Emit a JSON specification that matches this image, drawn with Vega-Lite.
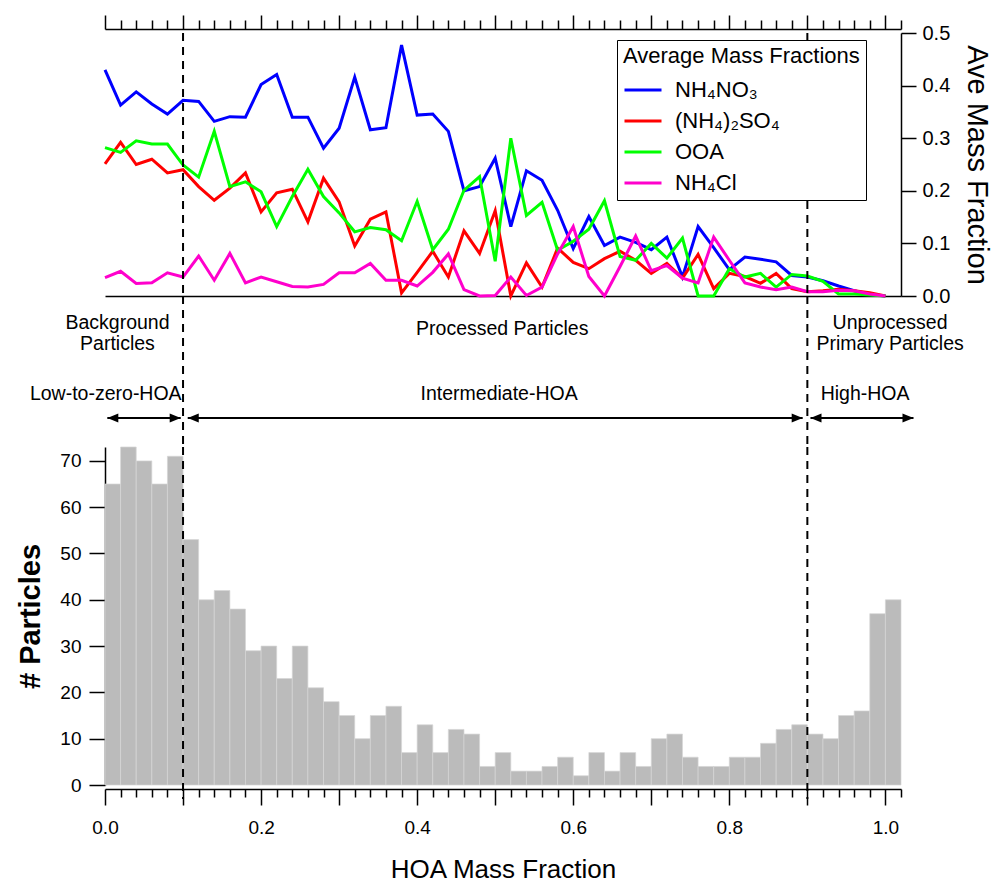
{
  "$schema": "https://vega.github.io/schema/vega-lite/v6.json",
  "background": "white",
  "padding": {"left": 16, "top": 14, "right": 2, "bottom": 2},
  "spacing": 0,
  "bounds": "flush",
  "config": {
    "font": "Liberation Sans",
    "view": {"stroke": null},
    "axis": {"domainColor": "black", "domainWidth": 1.5, "tickColor": "black", "tickWidth": 1.5, "labelColor": "black", "titleColor": "black", "labelFont": "Liberation Sans", "titleFont": "Liberation Sans", "grid": false, "titleFontWeight": "normal"},
    "text": {"font": "Liberation Sans"}
  },
  "datasets": {
    "counts": [
      {"lo":0.00,"hi":0.02,"n":65},{"lo":0.02,"hi":0.04,"n":73},{"lo":0.04,"hi":0.06,"n":70},{"lo":0.06,"hi":0.08,"n":65},{"lo":0.08,"hi":0.10,"n":71},
      {"lo":0.10,"hi":0.12,"n":53},{"lo":0.12,"hi":0.14,"n":40},{"lo":0.14,"hi":0.16,"n":42},{"lo":0.16,"hi":0.18,"n":38},{"lo":0.18,"hi":0.20,"n":29},
      {"lo":0.20,"hi":0.22,"n":30},{"lo":0.22,"hi":0.24,"n":23},{"lo":0.24,"hi":0.26,"n":30},{"lo":0.26,"hi":0.28,"n":21},{"lo":0.28,"hi":0.30,"n":18},
      {"lo":0.30,"hi":0.32,"n":15},{"lo":0.32,"hi":0.34,"n":10},{"lo":0.34,"hi":0.36,"n":15},{"lo":0.36,"hi":0.38,"n":17},{"lo":0.38,"hi":0.40,"n":7},
      {"lo":0.40,"hi":0.42,"n":13},{"lo":0.42,"hi":0.44,"n":7},{"lo":0.44,"hi":0.46,"n":12},{"lo":0.46,"hi":0.48,"n":11},{"lo":0.48,"hi":0.50,"n":4},
      {"lo":0.50,"hi":0.52,"n":7},{"lo":0.52,"hi":0.54,"n":3},{"lo":0.54,"hi":0.56,"n":3},{"lo":0.56,"hi":0.58,"n":4},{"lo":0.58,"hi":0.60,"n":6},
      {"lo":0.60,"hi":0.62,"n":2},{"lo":0.62,"hi":0.64,"n":7},{"lo":0.64,"hi":0.66,"n":3},{"lo":0.66,"hi":0.68,"n":7},{"lo":0.68,"hi":0.70,"n":4},
      {"lo":0.70,"hi":0.72,"n":10},{"lo":0.72,"hi":0.74,"n":11},{"lo":0.74,"hi":0.76,"n":6},{"lo":0.76,"hi":0.78,"n":4},{"lo":0.78,"hi":0.80,"n":4},
      {"lo":0.80,"hi":0.82,"n":6},{"lo":0.82,"hi":0.84,"n":6},{"lo":0.84,"hi":0.86,"n":9},{"lo":0.86,"hi":0.88,"n":12},{"lo":0.88,"hi":0.90,"n":13},
      {"lo":0.90,"hi":0.92,"n":11},{"lo":0.92,"hi":0.94,"n":10},{"lo":0.94,"hi":0.96,"n":15},{"lo":0.96,"hi":0.98,"n":16},{"lo":0.98,"hi":1.00,"n":37},
      {"lo":1.00,"hi":1.02,"n":40}
    ],
    "fractions": [
      {"hoa":0.00,"NH4NO3":0.430,"NH42SO4":0.251,"OOA":0.282,"NH4Cl":0.035},
      {"hoa":0.02,"NH4NO3":0.363,"NH42SO4":0.292,"OOA":0.273,"NH4Cl":0.047},
      {"hoa":0.04,"NH4NO3":0.388,"NH42SO4":0.250,"OOA":0.295,"NH4Cl":0.024},
      {"hoa":0.06,"NH4NO3":0.365,"NH42SO4":0.260,"OOA":0.289,"NH4Cl":0.025},
      {"hoa":0.08,"NH4NO3":0.346,"NH42SO4":0.234,"OOA":0.289,"NH4Cl":0.044},
      {"hoa":0.10,"NH4NO3":0.372,"NH42SO4":0.240,"OOA":0.249,"NH4Cl":0.036},
      {"hoa":0.12,"NH4NO3":0.370,"NH42SO4":0.208,"OOA":0.226,"NH4Cl":0.076},
      {"hoa":0.14,"NH4NO3":0.332,"NH42SO4":0.182,"OOA":0.313,"NH4Cl":0.030},
      {"hoa":0.16,"NH4NO3":0.341,"NH42SO4":0.205,"OOA":0.208,"NH4Cl":0.081},
      {"hoa":0.18,"NH4NO3":0.340,"NH42SO4":0.234,"OOA":0.217,"NH4Cl":0.025},
      {"hoa":0.20,"NH4NO3":0.402,"NH42SO4":0.160,"OOA":0.198,"NH4Cl":0.036},
      {"hoa":0.22,"NH4NO3":0.421,"NH42SO4":0.196,"OOA":0.132,"NH4Cl":0.027},
      {"hoa":0.24,"NH4NO3":0.340,"NH42SO4":0.203,"OOA":0.189,"NH4Cl":0.018},
      {"hoa":0.26,"NH4NO3":0.340,"NH42SO4":0.141,"OOA":0.241,"NH4Cl":0.017},
      {"hoa":0.28,"NH4NO3":0.281,"NH42SO4":0.224,"OOA":0.189,"NH4Cl":0.022},
      {"hoa":0.30,"NH4NO3":0.319,"NH42SO4":0.179,"OOA":0.158,"NH4Cl":0.044},
      {"hoa":0.32,"NH4NO3":0.416,"NH42SO4":0.095,"OOA":0.122,"NH4Cl":0.044},
      {"hoa":0.34,"NH4NO3":0.316,"NH42SO4":0.146,"OOA":0.130,"NH4Cl":0.062},
      {"hoa":0.36,"NH4NO3":0.320,"NH42SO4":0.160,"OOA":0.126,"NH4Cl":0.030},
      {"hoa":0.38,"NH4NO3":0.477,"NH42SO4":0.006,"OOA":0.105,"NH4Cl":0.030},
      {"hoa":0.40,"NH4NO3":0.344,"NH42SO4":0.045,"OOA":0.180,"NH4Cl":0.019},
      {"hoa":0.42,"NH4NO3":0.346,"NH42SO4":0.085,"OOA":0.088,"NH4Cl":0.045},
      {"hoa":0.44,"NH4NO3":0.313,"NH42SO4":0.036,"OOA":0.127,"NH4Cl":0.080},
      {"hoa":0.46,"NH4NO3":0.200,"NH42SO4":0.124,"OOA":0.201,"NH4Cl":0.012},
      {"hoa":0.48,"NH4NO3":0.208,"NH42SO4":0.081,"OOA":0.227,"NH4Cl":0.000},
      {"hoa":0.50,"NH4NO3":0.262,"NH42SO4":0.162,"OOA":0.066,"NH4Cl":0.001},
      {"hoa":0.52,"NH4NO3":0.132,"NH42SO4":0.000,"OOA":0.300,"NH4Cl":0.036},
      {"hoa":0.54,"NH4NO3":0.238,"NH42SO4":0.063,"OOA":0.153,"NH4Cl":0.001},
      {"hoa":0.56,"NH4NO3":0.220,"NH42SO4":0.017,"OOA":0.178,"NH4Cl":0.017},
      {"hoa":0.58,"NH4NO3":0.163,"NH42SO4":0.091,"OOA":0.087,"NH4Cl":0.080},
      {"hoa":0.60,"NH4NO3":0.090,"NH42SO4":0.064,"OOA":0.104,"NH4Cl":0.132},
      {"hoa":0.62,"NH4NO3":0.151,"NH42SO4":0.052,"OOA":0.127,"NH4Cl":0.037},
      {"hoa":0.64,"NH4NO3":0.096,"NH42SO4":0.071,"OOA":0.181,"NH4Cl":0.000},
      {"hoa":0.66,"NH4NO3":0.112,"NH42SO4":0.085,"OOA":0.075,"NH4Cl":0.056},
      {"hoa":0.68,"NH4NO3":0.102,"NH42SO4":0.068,"OOA":0.068,"NH4Cl":0.114},
      {"hoa":0.70,"NH4NO3":0.088,"NH42SO4":0.043,"OOA":0.100,"NH4Cl":0.048},
      {"hoa":0.72,"NH4NO3":0.112,"NH42SO4":0.062,"OOA":0.072,"NH4Cl":0.058},
      {"hoa":0.74,"NH4NO3":0.036,"NH42SO4":0.034,"OOA":0.110,"NH4Cl":0.034},
      {"hoa":0.76,"NH4NO3":0.132,"NH42SO4":0.079,"OOA":0.000,"NH4Cl":0.025},
      {"hoa":0.78,"NH4NO3":0.092,"NH42SO4":0.014,"OOA":0.000,"NH4Cl":0.112},
      {"hoa":0.80,"NH4NO3":0.050,"NH42SO4":0.043,"OOA":0.052,"NH4Cl":0.068},
      {"hoa":0.82,"NH4NO3":0.074,"NH42SO4":0.037,"OOA":0.036,"NH4Cl":0.025},
      {"hoa":0.84,"NH4NO3":0.070,"NH42SO4":0.024,"OOA":0.043,"NH4Cl":0.017},
      {"hoa":0.86,"NH4NO3":0.065,"NH42SO4":0.043,"OOA":0.017,"NH4Cl":0.012},
      {"hoa":0.88,"NH4NO3":0.039,"NH42SO4":0.014,"OOA":0.041,"NH4Cl":0.017},
      {"hoa":0.90,"NH4NO3":0.036,"NH42SO4":0.008,"OOA":0.038,"NH4Cl":0.008},
      {"hoa":0.92,"NH4NO3":0.029,"NH42SO4":0.010,"OOA":0.028,"NH4Cl":0.008},
      {"hoa":0.94,"NH4NO3":0.019,"NH42SO4":0.013,"OOA":0.004,"NH4Cl":0.011},
      {"hoa":0.96,"NH4NO3":0.010,"NH42SO4":0.010,"OOA":0.004,"NH4Cl":0.010},
      {"hoa":0.98,"NH4NO3":0.003,"NH42SO4":0.006,"OOA":0.002,"NH4Cl":0.004},
      {"hoa":1.00,"NH4NO3":0.000,"NH42SO4":0.000,"OOA":0.000,"NH4Cl":0.000}
    ],
    "bounds": [{"regime_edge": 0.1}, {"regime_edge": 0.9}],
    "annotations": [
      {"label": "Background\nParticles", "x": 0.016, "tier": "region2"},
      {"label": "Processed Particles", "x": 0.509, "tier": "region1"},
      {"label": "Unprocessed\nPrimary Particles", "x": 1.006, "tier": "region2"},
      {"label": "Low-to-zero-HOA", "x": 0.001, "tier": "regime"},
      {"label": "Intermediate-HOA", "x": 0.505, "tier": "regime"},
      {"label": "High-HOA", "x": 0.974, "tier": "regime"}
    ],
    "arrows": [
      {"regime": "Low-to-zero-HOA", "from": 0.003, "to": 0.097},
      {"regime": "Intermediate-HOA", "from": 0.106, "to": 0.894},
      {"regime": "High-HOA", "from": 0.904, "to": 1.036}
    ]
  },
  "resolve": {"legend": {"color": "independent"}},
  "vconcat": [
    {
      "width": 796,
      "height": 263,
      "layer": [
        {
          "data": {"name": "fractions"},
          "transform": [{"fold": ["NH4NO3", "NH42SO4", "OOA", "NH4Cl"], "as": ["species", "frac"]}],
          "mark": {"type": "line", "strokeWidth": 3},
          "encoding": {
            "x": {
              "field": "hoa", "type": "quantitative",
              "scale": {"domain": [0, 1.02], "nice": false, "zero": false},
              "axis": {
                "orient": "top", "title": null, "labels": false, "offset": 4,
                "values": [0,0.02,0.04,0.06,0.08,0.1,0.12,0.14,0.16,0.18,0.2,0.22,0.24,0.26,0.28,0.3,0.32,0.34,0.36,0.38,0.4,0.42,0.44,0.46,0.48,0.5,0.52,0.54,0.56,0.58,0.6,0.62,0.64,0.66,0.68,0.7,0.72,0.74,0.76,0.78,0.8,0.82,0.84,0.86,0.88,0.9,0.92,0.94,0.96,0.98,1,1.02],
                "tickSize": {"condition": {"test": "abs(datum.value*10 - round(datum.value*10)) < 0.01", "value": 14}, "value": 9}
              }
            },
            "y": {
              "field": "frac", "type": "quantitative",
              "scale": {"domain": [0, 0.5], "nice": false},
              "axis": {"orient": "right", "values": [0, 0.1, 0.2, 0.3, 0.4, 0.5], "format": ".1f", "tickSize": 15, "labelPadding": 6, "labelFontSize": 20, "title": "Ave Mass Fraction", "titleFontSize": 29, "titlePadding": 12}
            },
            "color": {
              "field": "species", "type": "nominal",
              "sort": ["NH4NO3", "NH42SO4", "OOA", "NH4Cl"],
              "scale": {"domain": ["NH4NO3", "NH42SO4", "OOA", "NH4Cl"], "range": ["#0000ff", "#ff0000", "#00ff00", "#ff00cc"]},
              "legend": {
                "orient": "none", "legendX": 512, "legendY": 7,
                "title": "Average Mass Fractions", "titleFontSize": 22, "titleFontWeight": "normal", "titleColor": "black", "titlePadding": 2, "titleLimit": 400,
                "labelFontSize": 22, "labelColor": "black", "labelOffset": 12, "labelLimit": 300,
                "symbolType": "stroke", "symbolSize": 1369, "symbolStrokeWidth": 3,
                "rowPadding": -3, "padding": 6, "strokeColor": "black", "fillColor": "white",
                "labelExpr": "datum.label == 'NH4NO3' ? 'NH₄NO₃' : datum.label == 'NH42SO4' ? '(NH₄)₂SO₄' : datum.label == 'NH4Cl' ? 'NH₄Cl' : datum.label"
              }
            }
          }
        },
        {
          "data": {"name": "bounds"},
          "mark": {"type": "rule", "strokeDash": [8, 6], "strokeWidth": 2, "color": "black"},
          "encoding": {
            "x": {"field": "regime_edge", "type": "quantitative", "scale": {"domain": [0, 1.02], "nice": false, "zero": false},
                  "axis": {"orient": "bottom", "title": null, "labels": false, "ticks": false, "domain": true}}
          }
        }
      ],
      "resolve": {"axis": {"x": "independent"}}
    },
    {
      "width": 796,
      "height": 151,
      "layer": [
        {
          "data": {"name": "bounds"},
          "mark": {"type": "rule", "strokeDash": [8, 6], "strokeWidth": 2, "color": "black"},
          "encoding": {
            "x": {"field": "regime_edge", "type": "quantitative", "scale": {"domain": [0, 1.02], "nice": false, "zero": false}, "axis": null}
          }
        },
        {
          "data": {"name": "annotations"},
          "transform": [{"filter": "datum.tier == 'region2'"}],
          "mark": {"type": "text", "fontSize": 19.5, "lineBreak": "\n", "lineHeight": 21, "baseline": "middle", "align": "center", "color": "black"},
          "encoding": {
            "x": {"field": "x", "type": "quantitative", "scale": {"domain": [0, 1.02], "nice": false, "zero": false}, "axis": null},
            "y": {"datum": 27, "scale": {"domain": [0, 151], "reverse": true, "nice": false, "zero": false}, "axis": null},
            "text": {"field": "label"}
          }
        },
        {
          "data": {"name": "annotations"},
          "transform": [{"filter": "datum.tier == 'region1'"}],
          "mark": {"type": "text", "fontSize": 19.5, "baseline": "middle", "align": "center", "color": "black"},
          "encoding": {
            "x": {"field": "x", "type": "quantitative", "axis": null},
            "y": {"datum": 32.5, "axis": null},
            "text": {"field": "label"}
          }
        },
        {
          "data": {"name": "annotations"},
          "transform": [{"filter": "datum.tier == 'regime'"}],
          "mark": {"type": "text", "fontSize": 19.5, "baseline": "middle", "align": "center", "color": "black"},
          "encoding": {
            "x": {"field": "x", "type": "quantitative", "axis": null},
            "y": {"datum": 98, "axis": null},
            "text": {"field": "label"}
          }
        },
        {
          "data": {"name": "arrows"},
          "mark": {"type": "rule", "strokeWidth": 2, "color": "black"},
          "encoding": {
            "x": {"field": "from", "type": "quantitative", "axis": null},
            "x2": {"field": "to"},
            "y": {"datum": 122, "axis": null}
          }
        },
        {
          "data": {"name": "arrows"},
          "mark": {"type": "point", "shape": "M0,0L2,-0.8L2,0.8Z", "size": 121, "filled": true, "opacity": 1, "color": "black", "strokeWidth": 0},
          "encoding": {
            "x": {"field": "from", "type": "quantitative", "axis": null},
            "y": {"datum": 122, "axis": null}
          }
        },
        {
          "data": {"name": "arrows"},
          "mark": {"type": "point", "shape": "M0,0L-2,-0.8L-2,0.8Z", "size": 121, "filled": true, "opacity": 1, "color": "black", "strokeWidth": 0},
          "encoding": {
            "x": {"field": "to", "type": "quantitative", "axis": null},
            "y": {"datum": 122, "axis": null}
          }
        }
      ]
    },
    {
      "width": 796,
      "height": 338,
      "layer": [
        {
          "data": {"name": "counts"},
          "mark": {"type": "bar", "color": "#bbbbbb", "stroke": "#d6d6d6", "strokeWidth": 0.7},
          "encoding": {
            "x": {
              "field": "lo", "type": "quantitative",
              "scale": {"domain": [0, 1.02], "nice": false, "zero": false, "padding": 0},
              "axis": {
                "orient": "bottom", "title": "HOA Mass Fraction", "titleFontSize": 26, "titlePadding": 19, "offset": 4,
                "values": [0,0.02,0.04,0.06,0.08,0.1,0.12,0.14,0.16,0.18,0.2,0.22,0.24,0.26,0.28,0.3,0.32,0.34,0.36,0.38,0.4,0.42,0.44,0.46,0.48,0.5,0.52,0.54,0.56,0.58,0.6,0.62,0.64,0.66,0.68,0.7,0.72,0.74,0.76,0.78,0.8,0.82,0.84,0.86,0.88,0.9,0.92,0.94,0.96,0.98,1,1.02],
                "tickSize": {"condition": {"test": "abs(datum.value*10 - round(datum.value*10)) < 0.01", "value": 16}, "value": 8},
                "labelExpr": "abs(datum.value*5 - round(datum.value*5)) < 0.01 ? format(datum.value, '.1f') : ''",
                "labelOverlap": false, "labelFlush": false, "labelBound": false,
                "labelFontSize": 19, "labelPadding": 13
              }
            },
            "x2": {"field": "hi"},
            "y": {
              "field": "n", "type": "quantitative",
              "scale": {"domain": [0, 73], "nice": false, "padding": 0},
              "axis": {"values": [0, 10, 20, 30, 40, 50, 60, 70], "tickSize": 16, "labelPadding": 8, "labelFontSize": 19, "title": "# Particles", "titleFontSize": 29, "titleFontWeight": "bold", "titlePadding": 14}
            },
            "y2": {"datum": 0}
          }
        },
        {
          "data": {"name": "bounds"},
          "mark": {"type": "rule", "strokeDash": [8, 6], "strokeWidth": 2, "color": "black"},
          "encoding": {
            "x": {
              "field": "regime_edge", "type": "quantitative",
              "axis": {
                "orient": "bottom", "title": "HOA Mass Fraction", "titleFontSize": 26, "titlePadding": 19, "offset": 4,
                "values": [0,0.02,0.04,0.06,0.08,0.1,0.12,0.14,0.16,0.18,0.2,0.22,0.24,0.26,0.28,0.3,0.32,0.34,0.36,0.38,0.4,0.42,0.44,0.46,0.48,0.5,0.52,0.54,0.56,0.58,0.6,0.62,0.64,0.66,0.68,0.7,0.72,0.74,0.76,0.78,0.8,0.82,0.84,0.86,0.88,0.9,0.92,0.94,0.96,0.98,1,1.02],
                "tickSize": {"condition": {"test": "abs(datum.value*10 - round(datum.value*10)) < 0.01", "value": 16}, "value": 8},
                "labelExpr": "abs(datum.value*5 - round(datum.value*5)) < 0.01 ? format(datum.value, '.1f') : ''",
                "labelOverlap": false, "labelFlush": false, "labelBound": false,
                "labelFontSize": 19, "labelPadding": 13
              }
            },
            "y": {"datum": 73},
            "y2": {"datum": -3}
          }
        }
      ]
    }
  ]
}
